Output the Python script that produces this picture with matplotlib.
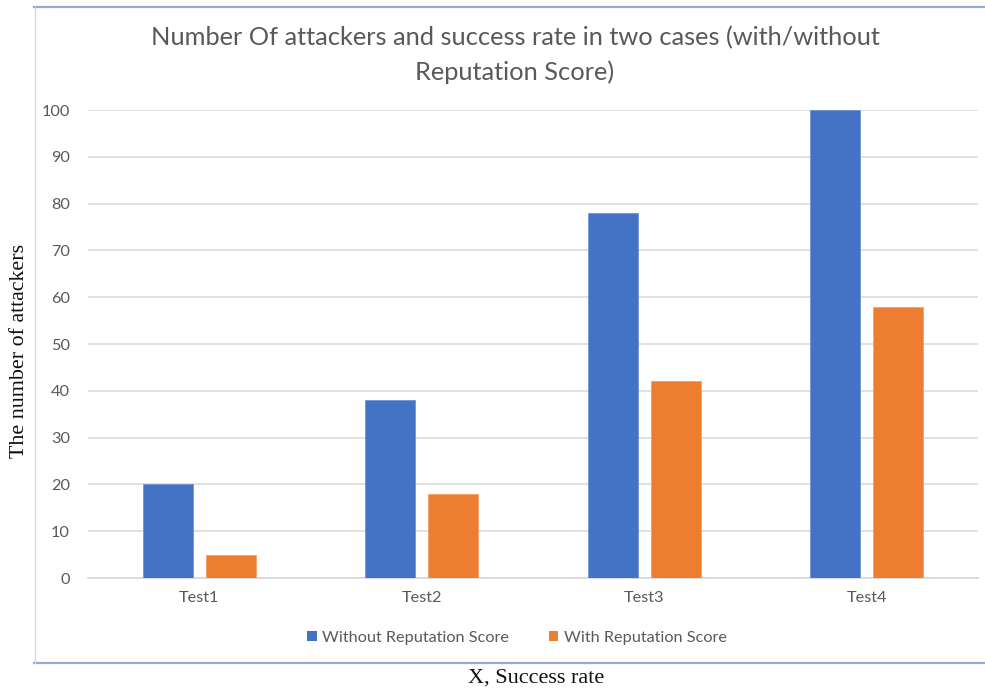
import matplotlib
matplotlib.use("Agg")
import matplotlib.pyplot as plt
from matplotlib.lines import Line2D
from matplotlib.patches import Patch
import numpy as np

categories = ["Test1", "Test2", "Test3", "Test4"]
without_score = [20, 38, 78, 100]
with_score = [5, 18, 42, 58]
series_names = ["Without Reputation Score", "With Reputation Score"]
y_ticks = [0, 10, 20, 30, 40, 50, 60, 70, 80, 90, 100]

BLUE = "#4472C4"
ORANGE = "#ED7D31"
GRAY_TEXT = "#595959"
GRID = "#D9D9D9"
FRAME = "#8EAADB"

W, H = 985, 693
fig = plt.figure(figsize=(W / 100, H / 100), dpi=100)
fig.patch.set_facecolor("white")

def fx(px):
    return px / W

def fy(py):
    return 1 - py / H

sans = ["Lato", "DejaVu Sans"]
serif = ["Liberation Serif", "DejaVu Serif"]
small = 11.7

ax = fig.add_axes([fx(88), fy(578), fx(978) - fx(88), fy(110) - fy(578)])
x = np.arange(len(categories))
bw = 0.225
off = 0.1416
ax.bar(x - off, without_score, bw, color=BLUE, edgecolor="#6F93D6", linewidth=0.6, zorder=3)
ax.bar(x + off, with_score, bw, color=ORANGE, edgecolor="#F3A06A", linewidth=0.6, zorder=3)

ax.set_xlim(-0.5, len(categories) - 0.5)
ax.set_ylim(0, 100)
ax.set_yticks(y_ticks)
ax.set_xticks(x)
ax.set_xticklabels(categories)
ax.yaxis.grid(True, color=GRID, linewidth=1.1, zorder=0)
ax.set_axisbelow(True)
for s in ["top", "right", "left"]:
    ax.spines[s].set_visible(False)
ax.spines["bottom"].set_color(GRID)
ax.spines["bottom"].set_linewidth(1.3)
ax.tick_params(axis="both", length=0, colors=GRAY_TEXT, labelsize=small)
ax.tick_params(axis="y", pad=13)
ax.tick_params(axis="x", pad=9)
for lab in ax.get_xticklabels() + ax.get_yticklabels():
    lab.set_family(sans)
    lab.set_color(GRAY_TEXT)

# Title
fig.text(fx(515), fy(38), "Number Of attackers and success rate in two cases (with/without",
         ha="center", va="center", fontsize=18.3, color=GRAY_TEXT, family=sans)
fig.text(fx(515), fy(72), "Reputation Score)",
         ha="center", va="center", fontsize=18.3, color=GRAY_TEXT, family=sans)

# Legend
handles = [Patch(facecolor=BLUE, edgecolor="none"), Patch(facecolor=ORANGE, edgecolor="none")]
leg = fig.legend(handles, series_names, loc="center", bbox_to_anchor=(fx(517), fy(638)),
                 ncol=2, frameon=False, handlelength=0.6, handleheight=0.6,
                 handletextpad=0.35, columnspacing=2.4,
                 prop={"family": sans, "size": small})
for t in leg.get_texts():
    t.set_color(GRAY_TEXT)

# Frame around the chart area
fig.add_artist(Line2D([fx(34), 1], [fy(6.5), fy(6.5)], color=FRAME, linewidth=1.6))
fig.add_artist(Line2D([fx(34), 1], [fy(662.5), fy(662.5)], color=FRAME, linewidth=1.6))
fig.add_artist(Line2D([fx(34.5), fx(34.5)], [fy(6.5), fy(662.5)], color="#C9D7F0", linewidth=0.9))

# Axis captions outside the frame
fig.text(fx(20), fy(351), "The number of attackers", rotation=90, ha="center", va="center",
         fontsize=15.8, color="#111111", family=serif)
fig.text(fx(536), fy(678), "X, Success rate", ha="center", va="center",
         fontsize=16, color="#111111", family=serif)

fig.savefig("out.png", dpi=100, facecolor="white")
